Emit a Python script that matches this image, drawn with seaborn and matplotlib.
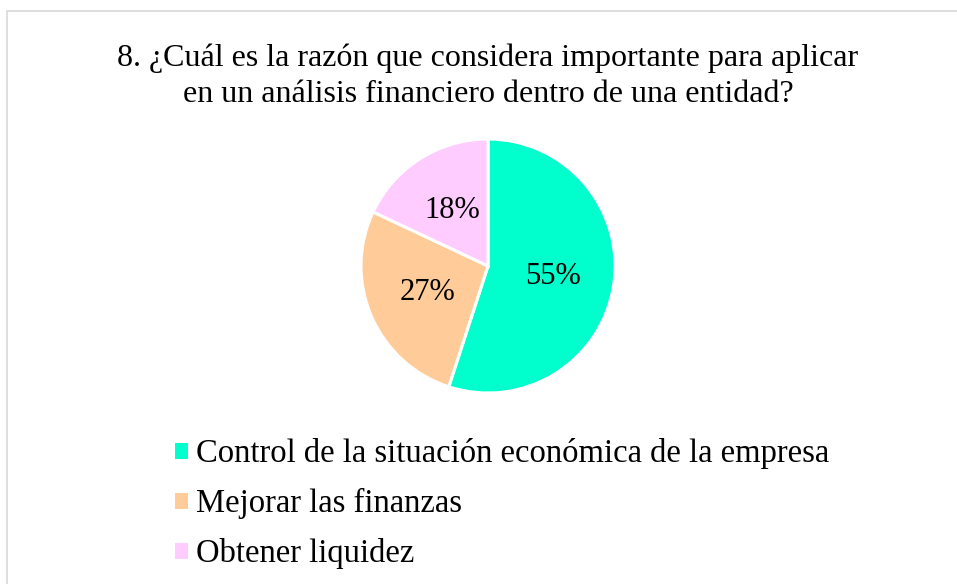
import matplotlib
matplotlib.use("Agg")
import matplotlib.pyplot as plt
import seaborn as sns
from matplotlib.patches import Rectangle

sns.set_theme(style="white")
plt.rcParams['font.family'] = ['Liberation Serif', 'DejaVu Serif']
plt.rcParams['text.color'] = 'black'

title = "8. ¿Cuál es la razón que considera importante para aplicar\nen un análisis financiero dentro de una entidad?"
labels = ["Control de la situación económica de la empresa",
          "Mejorar las finanzas",
          "Obtener liquidez"]
values = [55, 27, 18]
colors = ["#00FFCC", "#FFCC99", "#FFCCFF"]

fig = plt.figure(figsize=(9.57, 5.84), dpi=100)
fig.patch.set_facecolor("white")

# chart area border (only top/left visible in the crop)
fig.patches.append(Rectangle((7 / 957, -0.1), 1.2, (584 - 11) / 584 + 0.1,
                             transform=fig.transFigure, fill=False,
                             edgecolor="#d9d9d9", linewidth=1.2))

cx, cy, r = 488, 584 - 266, 127
ax = fig.add_axes([(cx - r) / 957, (cy - r) / 584, 2 * r / 957, 2 * r / 584])
wedges, texts, autotexts = ax.pie(values, colors=colors, startangle=90, counterclock=False,
                                  autopct="%1.0f%%", pctdistance=0.52,
                                  wedgeprops=dict(edgecolor="white", linewidth=2.2),
                                  textprops=dict(fontsize=22, color="black"))
ax.set_xlim(-1, 1)
ax.set_ylim(-1, 1)
ax.set_aspect("equal")
ax.axis("off")

fig.text(cx / 957, 1 - 76 / 584, title, ha="center", va="center", fontsize=23,
         linespacing=1.34, color="black")

fig.legend(wedges, labels, loc="upper left", bbox_to_anchor=(173 / 957, 1 - 438 / 584),
           frameon=False, fontsize=23.5, handlelength=0.5, handleheight=0.5,
           handletextpad=0.22, labelspacing=0.58, borderaxespad=0, borderpad=0,
           labelcolor="black")

fig.savefig("out.png", dpi=100, facecolor="white")
